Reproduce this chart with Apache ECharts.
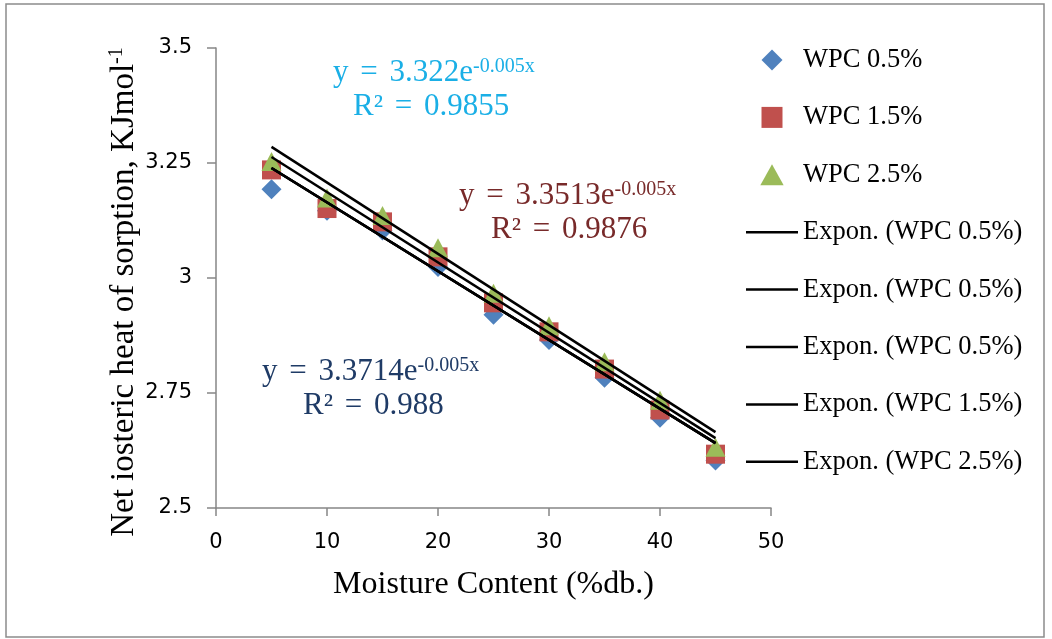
<!DOCTYPE html>
<html>
<head>
<meta charset="utf-8">
<script src="https://cdn.jsdelivr.net/npm/echarts@6/dist/echarts.min.js"></script>
<style>
html,body{margin:0;padding:0;background:#fff;}
#chart{width:1052px;height:639px;}
</style>
</head>
<body>
<div id="chart"></div>
<script>
// ---- data ----
const moisture = [5, 10, 15, 20, 25, 30, 35, 40, 45];
const wpc05 = [3.193, 3.146, 3.103, 3.024, 2.920, 2.865, 2.783, 2.696, 2.603];
const wpc15 = [3.235, 3.151, 3.122, 3.046, 2.946, 2.883, 2.802, 2.713, 2.617];
const wpc25 = [3.253, 3.174, 3.136, 3.066, 2.967, 2.896, 2.818, 2.734, 2.632];
// trend lines (endpoints, x = 5 and x = 45)
const trendX = [5, 45];
const trendBottom = [3.239, 2.641];
const trendMiddle = [3.263, 2.652];
const trendTop = [3.285, 2.665];
const xTicks = [0, 10, 20, 30, 40, 50];
const yTicks = [2.5, 2.75, 3, 3.25, 3.5];

const pairs = (xs, ys) => xs.map((x, i) => [x, ys[i]]);

const serif = '"Liberation Serif", "Times New Roman", serif';
const sans = '"DejaVu Sans", sans-serif';

function eqText(x, y, color, coef, r2, dx2) {
  const rich = {
    m: {fontFamily: serif, fontSize: 31, fill: color, lineHeight: 32},
    q: {fontFamily: serif, fontSize: 31, fill: color, lineHeight: 32, padding: [0, 4, 0, 4]},
    s: {fontFamily: serif, fontSize: 20, fill: color, verticalAlign: 'top'}
  };
  return [
    {
      type: 'text', x: x, y: y, silent: true,
      style: {
        text: '{m|y }{q|=}{m| ' + coef + 'e}{s|-0.005x}',
        fill: color, verticalAlign: 'middle', rich: rich
      }
    },
    {
      type: 'text', x: x + dx2, y: y + 34, silent: true,
      style: {
        text: '{m|R² }{q|=}{m| ' + r2 + '}',
        fill: color, verticalAlign: 'middle', rich: rich
      }
    }
  ];
}

const diamondIcon = 'path://M5,0L10,5L5,10L0,5Z';
const squareIcon = 'path://M0,0L10,0L10,10L0,10Z';
const triangleIcon = 'path://M5,0L10,9L0,9Z';
const lineIcon = 'path://M0,0L104,0L104,5L0,5Z';

const chart = echarts.init(document.getElementById('chart'));
const option = {
  animation: false,
  backgroundColor: '#fff',
  grid: {left: 216, top: 48, width: 555, height: 460, containLabel: false, outerBoundsMode: 'none'},
  xAxis: {
    type: 'value', min: xTicks[0], max: xTicks[xTicks.length - 1], interval: 10,
    name: 'Moisture Content (%db.)', nameLocation: 'middle', nameGap: 61,
    nameTextStyle: {fontFamily: serif, fontSize: 32, color: '#000'},
    axisLine: {show: true, lineStyle: {color: '#868686', width: 1.5}},
    axisTick: {show: true, length: 8, lineStyle: {color: '#868686', width: 1.5}},
    axisLabel: {fontFamily: sans, fontSize: 21, color: '#000', margin: 24},
    splitLine: {show: false}
  },
  yAxis: {
    type: 'value', min: yTicks[0], max: yTicks[yTicks.length - 1], interval: 0.25,
    axisLine: {show: true, lineStyle: {color: '#868686', width: 1.5}},
    axisTick: {show: true, length: 9, lineStyle: {color: '#868686', width: 1.5}},
    axisLabel: {fontFamily: sans, fontSize: 21, color: '#000', margin: 24},
    splitLine: {show: false}
  },
  legend: {
    orient: 'vertical', left: 746, top: 46.5, padding: 0,
    itemWidth: 52, itemHeight: 21, itemGap: 30.4,
    symbolKeepAspect: true,
    textStyle: {fontFamily: serif, fontSize: 26.5, color: '#000', lineHeight: 26},
    formatter: name => name.replace(/#\d$/, ''),
    data: [
      {name: 'WPC 0.5%', icon: diamondIcon},
      {name: 'WPC 1.5%', icon: squareIcon},
      {name: 'WPC 2.5%', icon: triangleIcon},
      {name: 'Expon. (WPC 0.5%)#1', icon: lineIcon},
      {name: 'Expon. (WPC 0.5%)#2', icon: lineIcon},
      {name: 'Expon. (WPC 0.5%)#3', icon: lineIcon},
      {name: 'Expon. (WPC 1.5%)', icon: lineIcon},
      {name: 'Expon. (WPC 2.5%)', icon: lineIcon}
    ]
  },
  series: [
    {name: 'WPC 0.5%', type: 'scatter', symbol: 'diamond', symbolSize: [20, 20],
     itemStyle: {color: '#4F81BD', opacity: 1}, data: pairs(moisture, wpc05)},
    {name: 'WPC 1.5%', type: 'scatter', symbol: 'rect', symbolSize: 19,
     itemStyle: {color: '#C0504D', opacity: 1}, data: pairs(moisture, wpc15)},
    {name: 'WPC 2.5%', type: 'scatter', symbol: 'triangle', symbolSize: [20, 19],
     itemStyle: {color: '#9BBB59', opacity: 1}, data: pairs(moisture, wpc25)},
    {name: 'Expon. (WPC 0.5%)#1', type: 'line', symbol: 'none', silent: true,
     lineStyle: {color: '#000', width: 2.5}, itemStyle: {color: '#000'}, data: pairs(trendX, trendBottom)},
    {name: 'Expon. (WPC 0.5%)#2', type: 'line', symbol: 'none', silent: true,
     lineStyle: {color: '#000', width: 2.5}, itemStyle: {color: '#000'}, data: pairs(trendX, trendBottom)},
    {name: 'Expon. (WPC 0.5%)#3', type: 'line', symbol: 'none', silent: true,
     lineStyle: {color: '#000', width: 2.5}, itemStyle: {color: '#000'}, data: pairs(trendX, trendBottom)},
    {name: 'Expon. (WPC 1.5%)', type: 'line', symbol: 'none', silent: true,
     lineStyle: {color: '#000', width: 2.5}, itemStyle: {color: '#000'}, data: pairs(trendX, trendMiddle)},
    {name: 'Expon. (WPC 2.5%)', type: 'line', symbol: 'none', silent: true,
     lineStyle: {color: '#000', width: 2.5}, itemStyle: {color: '#000'}, data: pairs(trendX, trendTop)}
  ],
  graphic: [
    {type: 'rect', shape: {x: 6, y: 4, width: 1038, height: 633}, silent: true,
     style: {fill: 'none', stroke: '#8c8c8c', lineWidth: 1.5}, z: -10},
    {
      type: 'text', x: 124, y: 292, rotation: Math.PI / 2, silent: true,
      style: {
        text: '{m|Net iosteric heat of sorption, KJmol}{s|-1}',
        align: 'center', verticalAlign: 'middle', fill: '#000',
        rich: {
          m: {fontFamily: serif, fontSize: 33, fill: '#000', lineHeight: 34},
          s: {fontFamily: serif, fontSize: 20, fill: '#000', verticalAlign: 'top'}
        }
      }
    },
    ...eqText(333, 73, '#1AAFE6', '3.322', '0.9855', 20),
    ...eqText(459, 196, '#782A2A', '3.3513', '0.9876', 32),
    ...eqText(262, 372, '#1F3B66', '3.3714', '0.988', 41)
  ]
};
chart.setOption(option);
</script>
</body>
</html>
